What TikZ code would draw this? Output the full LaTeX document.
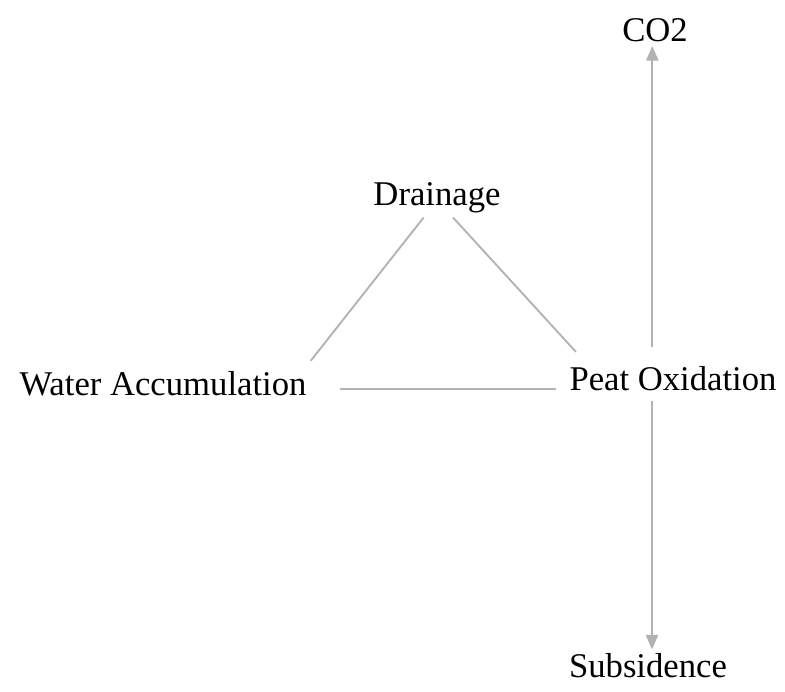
\documentclass[tikz,border=0pt]{standalone}
\usepackage{fontspec}
\setmainfont{Liberation Serif}
\usetikzlibrary{arrows.meta,positioning,calc}
\definecolor{linkgray}{RGB}{178,178,178}
\tikzset{
    factor/.style={font=\fontsize{26}{30}\selectfont, inner sep=3pt},
    link/.style={draw=linkgray, line width=1.4pt},
    flow/.style={draw=linkgray, line width=1.7pt, -{Triangle[length=11pt,width=9pt]}}
}

\begin{document}
\begin{tikzpicture}[x=0.75pt,y=-0.75pt]
\useasboundingbox (0,0) rectangle (785,692);
\node[factor] (co2) at (655,30) {CO2};
\node[factor] (drain) at (437,198) {Drainage};
\node[factor] (water) at (163,384) {Water Accumulation};
\node[factor] (peat) at (673,379) {Peat Oxidation};
\node[factor] (subs) at (648,666) {Subsidence};
\draw[link] ([xshift=-10pt]drain.south) -- ([yshift=5pt]water.north east);
\draw[link] ([xshift=12pt]drain.south) -- ([xshift=8pt,yshift=8pt]peat.north west);
\draw[link] ([xshift=22pt,yshift=-4pt]water.east) -- ([xshift=-7pt,yshift=-4pt]water.east -| peat.west);
\draw[flow] ([xshift=-2pt,yshift=12pt]peat.north -| co2.south) -- ([xshift=-2pt]co2.south);
\draw[flow] ([xshift=3pt,yshift=-4pt]peat.south -| subs.north) -- ([xshift=3pt]subs.north);
\end{tikzpicture}
\end{document}
